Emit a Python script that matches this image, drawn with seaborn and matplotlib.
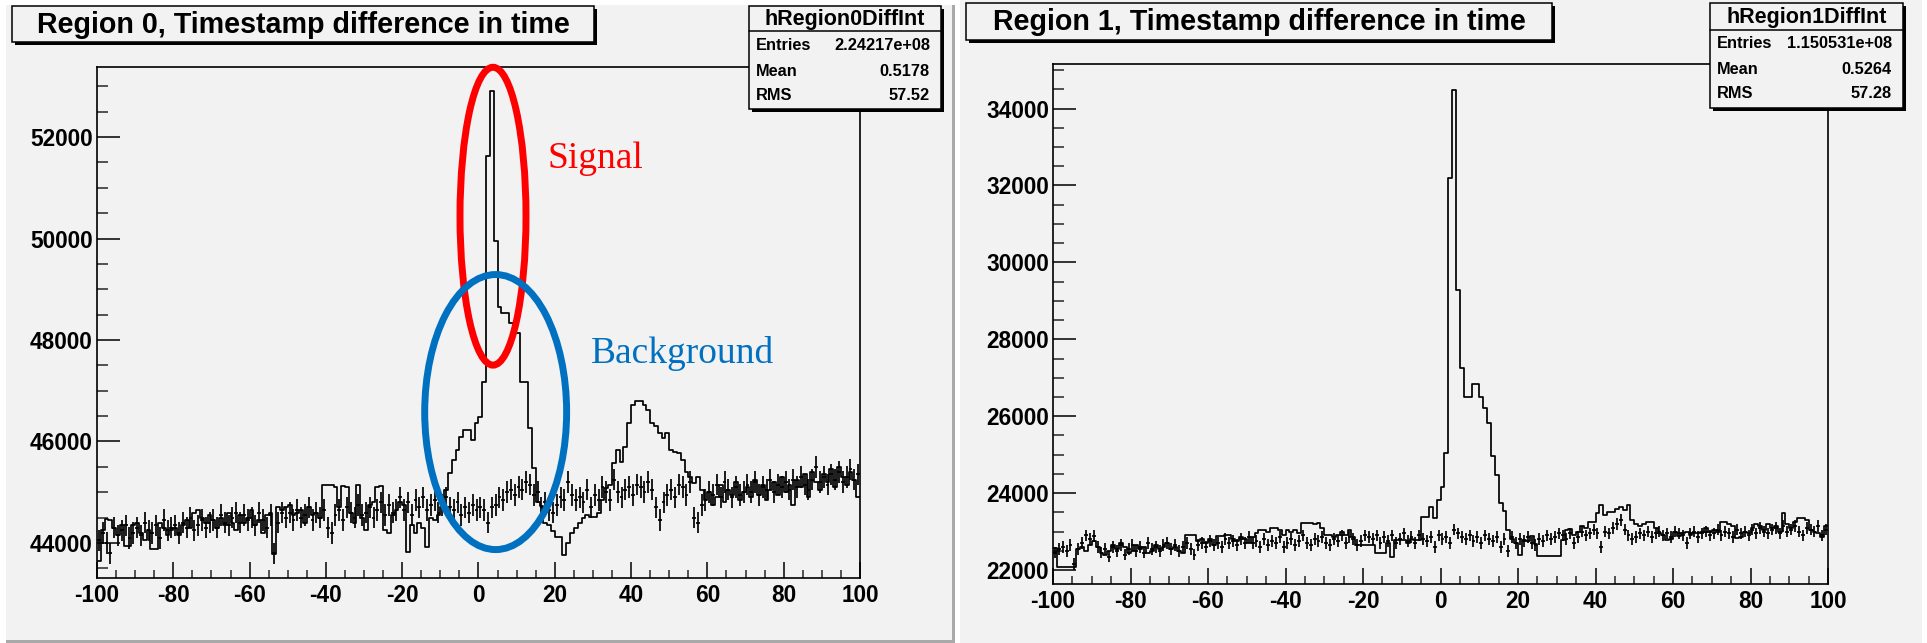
import numpy as np
import pandas as pd
import matplotlib
matplotlib.use('Agg')
import matplotlib.pyplot as plt
from matplotlib.patches import Rectangle, Ellipse
from matplotlib.ticker import MultipleLocator, FormatStrFormatter
import seaborn as sns

sns.set_theme(style='white')
plt.rcParams['font.family'] = ['Liberation Sans', 'DejaVu Sans']
plt.rcParams['font.weight'] = 'bold'

W, H = 1927, 643
BG = '#f2f2f2'

# 200 bins of 1 unit from -100 to 100
bin_edges = np.arange(-100, 101, 1)
bin_centers = bin_edges[:-1] + 0.5

# Region 0: step histogram (outline) and the histogram drawn with error crosses
r0_step = [
    43650, 44250, 44480, 44450, 44300, 44150, 44350, 43950, 43950, 44350,
    44400, 44200, 44050, 44250, 43880, 43880, 44400, 44300, 44150, 44250,
    44300, 44150, 44350, 44450, 44300, 44600, 44650, 44500, 44400, 44550,
    44450, 44300, 44500, 44350, 44600, 44400, 44250, 44550, 44400, 44500,
    44650, 44350, 44450, 44200, 44550, 44600, 43780, 44700, 44650, 44700,
    44750, 44550, 44600, 44650, 44400, 44700, 44550, 44600, 44500, 45150,
    45150, 45150, 45100, 44700, 45120, 45100, 44600, 44400, 45140, 44500,
    44250, 44750, 44800, 45100, 45130, 44250, 44200, 44550, 44650, 44800,
    44750, 43830, 44350, 44200, 44400, 44300, 43930, 44500, 44450, 44550,
    44700, 45050, 45370, 45630, 45830, 46090, 46230, 46230, 46030, 46370,
    46490, 47180, 51620, 52900, 49960, 48650, 48530, 48530, 48330, 48140,
    48140, 47180, 47180, 46260, 45470, 44800, 44720, 44390, 44360, 44230,
    44120, 44120, 43760, 44000, 44200, 44300, 44390, 44490, 44560, 44520,
    44520, 44590, 44850, 45080, 45150, 45580, 45830, 45600, 45900, 46360,
    46720, 46790, 46800, 46720, 46620, 46360, 46300, 46170, 46070, 46170,
    45830, 45800, 45770, 45640, 45400, 45300, 45180, 45300, 45040, 44850,
    45000, 44750, 44900, 45150, 44800, 45050, 44950, 45200, 44850, 45000,
    45100, 44900, 45250, 44950, 45150, 44850, 45050, 45200, 44950, 45300,
    45000, 45150, 44750, 45250, 45100, 45350, 44900, 45400, 45200, 45050,
    45350, 45200, 45450, 45100, 45500, 45300, 45150, 45400, 45250, 44900,
]
r0_points = [
    44050, 44200, 44000, 43800, 44300, 44150, 44250, 44350, 44100, 44200,
    44300, 44150, 44400, 44250, 44200, 44350, 44100, 44450, 44250, 44300,
    44350, 44200, 44400, 44300, 44500, 44250, 44350, 44450, 44300, 44400,
    44450, 44300, 44550, 44400, 44350, 44500, 44600, 44400, 44550, 44450,
    44500, 44350, 44600, 44450, 44300, 44550, 43800, 44400, 44600, 44500,
    44600, 44450, 44650, 44500, 44550, 44700, 44450, 44600, 44500, 44650,
    44300, 44200, 44550, 44650, 44450, 44700, 44600, 44500, 44750, 44550,
    44600, 44700, 44500, 44650, 44800, 44550, 44750, 44600, 44650, 44900,
    44650, 44800, 44550, 44850, 44700, 44900, 44650, 44750, 44850, 44600,
    44750, 44900, 44700, 44650, 44800, 44550, 44700, 44600, 44750, 44650,
    44700, 44650, 44400, 44700, 44750, 44900, 44850, 45000, 45050, 44950,
    45100, 45050, 45200, 45150, 44950, 45000, 44700, 44800, 44650, 44600,
    44750, 44900, 44850, 45200, 44950, 44850, 44900, 44800, 45050, 44700,
    44950, 44850, 45100, 45000, 44850, 45250, 45000, 44900, 45050, 45100,
    44950, 45150, 45100, 45000, 45200, 45050, 44700, 44450, 44800, 44950,
    45050, 44900, 45150, 45100, 44950, 45200, 44500, 44400, 44750, 44850,
    45000, 44950, 45150, 44900, 45200, 45050, 44900, 45100, 44950, 45000,
    45150, 45000, 45200, 44950, 45100, 45050, 45250, 45000, 45150, 45100,
    45200, 45050, 45250, 45100, 45300, 45150, 45050, 45250, 45500, 45200,
    45300, 45150, 45350, 45250, 45400, 45200, 45300, 45450, 45250, 45350,
]

# Region 1
r1_step = [
    22560, 22090, 22090, 22090, 22090, 22090, 22550, 22600, 22500, 22650,
    22750, 22600, 22450, 22400, 22500, 22650, 22550, 22700, 22600, 22450,
    22500, 22650, 22550, 22600, 22450, 22500, 22650, 22550, 22600, 22700,
    22550, 22600, 22500, 22450, 22900, 22900, 22900, 22750, 22800, 22700,
    22800, 22650, 22880, 22880, 22900, 22900, 22800, 22750, 22850, 22800,
    22700, 22850, 22950, 23040, 23040, 23000, 23090, 23090, 23050, 22900,
    23040, 23000, 23040, 22950, 23210, 23210, 23210, 23200, 23210, 23090,
    22910, 22910, 22850, 22910, 23000, 22900, 23050, 22850, 22650, 22650,
    22650, 22650, 22650, 22430, 22430, 22430, 22700, 22350, 22780, 22780,
    22780, 22700, 22800, 22780, 22780, 23390, 23390, 23650, 23340, 23820,
    24170, 25040, 32190, 34490, 29270, 27250, 26490, 26490, 26840, 26840,
    26490, 26200, 25830, 24970, 24480, 23740, 23540, 23030, 22800, 22690,
    22390, 22780, 22750, 22880, 22670, 22370, 22370, 22370, 22370, 22370,
    22370, 22780, 23040, 23070, 22910, 23000, 23150, 23100, 23260, 23260,
    23470, 23690, 23430, 23520, 23520, 23580, 23650, 23560, 23690, 23300,
    23200, 23150, 23200, 23250, 23260, 23100, 22950, 22900, 22780, 22800,
    23000, 22880, 22950, 23000, 22900, 22960, 22950, 23000, 23100, 22980,
    23050, 23000, 23260, 23250, 23200, 23150, 22830, 22850, 23000, 22950,
    23100, 23200, 23150, 23050, 23200, 23100, 23150, 23000, 23470, 23200,
    23100, 23250, 23350, 23350, 23300, 23050, 23000, 22950, 22850, 23150,
]
r1_points = [
    22450, 22550, 22600, 22500, 22650, 22150, 22550, 22700, 22900, 22800,
    22880, 22600, 22450, 22550, 22350, 22600, 22500, 22650, 22400, 22550,
    22650, 22500, 22600, 22450, 22700, 22550, 22600, 22500, 22650, 22700,
    22550, 22650, 22500, 22600, 22700, 22550, 22400, 22650, 22700, 22600,
    22750, 22650, 22700, 22600, 22800, 22700, 22750, 22650, 22800, 22700,
    22850, 22700, 22750, 22600, 22800, 22650, 22750, 22700, 22850, 22600,
    22700, 22800, 22650, 22750, 22900, 22700, 22650, 22800, 22750, 22850,
    22700, 22650, 22800, 22750, 22900, 22700, 22850, 22800, 22650, 22750,
    22900, 22850, 22800, 22900, 22700, 22850, 22750, 22900, 22700, 22800,
    22950, 22750, 22850, 22700, 22900, 22800, 22750, 22850, 22600, 22900,
    22800, 22850, 22700, 23050, 22950, 22850, 22800, 22900, 22750, 22850,
    22700, 22900, 22800, 22750, 22850, 22600, 22800, 22500, 22850, 22700,
    22800, 22750, 22850, 22700, 22650, 22800, 22750, 22900, 22800, 22850,
    22950, 22900, 22800, 22950, 22700, 22850, 23000, 22900, 22950, 23050,
    22950, 22600, 23000, 22950, 23100, 23200, 23300, 23050, 22900, 22800,
    22850, 22950, 22900, 23000, 22850, 22950, 23000, 22900, 22950, 22850,
    23000, 22950, 22900, 22700, 22950, 23000, 22850, 22950, 23000, 22900,
    22950, 23050, 22900, 23000, 22950, 22850, 23050, 22950, 23000, 22900,
    23050, 22950, 23100, 23000, 22950, 23050, 23100, 22950, 23150, 23000,
    23050, 23150, 23000, 22900, 23100, 23050, 23000, 23150, 22900, 23050,
]

titles = ['Region 0, Timestamp difference in time', 'Region 1, Timestamp difference in time']
stat_names = ['hRegion0DiffInt', 'hRegion1DiffInt']
stat_labels = ['Entries', 'Mean', 'RMS']
stat_values = [['2.24217e+08', '0.5178', '57.52'],
               ['1.150531e+08', '0.5264', '57.28']]

fig = plt.figure(figsize=(W / 100, H / 100), dpi=100)
fig.patch.set_facecolor('white')


def px_rect(x0, y0, x1, y1, **kw):
    return Rectangle((x0 / W, 1 - y1 / H), (x1 - x0) / W, (y1 - y0) / H,
                     transform=fig.transFigure, **kw)


def shadow_box(x0, y0, x1, y1):
    fig.patches.append(px_rect(x0 + 3, y0 + 3, x1 + 3, y1 + 3, facecolor='black',
                               edgecolor='none', zorder=5))
    fig.patches.append(px_rect(x0, y0, x1, y1, facecolor=BG, edgecolor='black',
                               linewidth=1.1, zorder=5))


def ftext(x, y, s, **kw):
    fig.text(x / W, 1 - y / H, s, zorder=7, **kw)


# pads
fig.patches.append(px_rect(6, 5, 955, 643, facecolor='#a9a9a9', edgecolor='none', zorder=-3))
fig.patches.append(px_rect(6, 5, 952, 640, facecolor=BG, edgecolor='none', zorder=-2))
fig.patches.append(px_rect(960, 0, 1922, 643, facecolor=BG, edgecolor='none', zorder=-2))


def draw_panel(frame, step, points, ylim, title, tbox, name, values, sbox, rows):
    x0, y0, x1, y1 = frame
    ax = fig.add_axes([x0 / W, 1 - y1 / H, (x1 - x0) / W, (y1 - y0) / H])
    ax.set_facecolor(BG)
    df = pd.DataFrame({'t': bin_centers, 'n': np.array(step, dtype=float)})
    sns.histplot(data=df, x='t', weights='n', bins=bin_edges.tolist(), element='step',
                 fill=False, color='black', linewidth=1.25, ax=ax)
    pts = np.array(points, dtype=float)
    ax.errorbar(bin_centers, pts, yerr=np.sqrt(pts), xerr=0.5, fmt='none',
                ecolor='black', elinewidth=1.25, capsize=0)
    ax.set_xlim(-100, 100)
    ax.set_ylim(*ylim)
    ax.set_xlabel('')
    ax.set_ylabel('')
    ax.xaxis.set_major_locator(MultipleLocator(20))
    ax.xaxis.set_minor_locator(MultipleLocator(5))
    ax.yaxis.set_major_locator(MultipleLocator(2000))
    ax.yaxis.set_minor_locator(MultipleLocator(500))
    ax.xaxis.set_major_formatter(FormatStrFormatter('%d'))
    ax.yaxis.set_major_formatter(FormatStrFormatter('%d'))
    ax.tick_params(axis='y', which='major', direction='in', length=16.5, width=1.1,
                   labelsize=16.3, pad=3, left=True, right=False, colors='black')
    ax.tick_params(axis='y', which='minor', direction='in', length=8, width=1.1,
                   left=True, right=False)
    ax.tick_params(axis='x', which='major', direction='in', length=11.5, width=1.1,
                   labelsize=16.3, pad=4, bottom=True, top=False, colors='black')
    ax.tick_params(axis='x', which='minor', direction='in', length=5.8, width=1.1,
                   bottom=True, top=False)
    for s in ax.spines.values():
        s.set_color('black')
        s.set_linewidth(1.2)
    ax.grid(False)

    bx0, by0, bx1, by1 = tbox
    shadow_box(bx0, by0, bx1, by1)
    ftext((bx0 + bx1) / 2, (by0 + by1) / 2 + 1, title, ha='center', va='center',
          fontsize=20.6, fontweight='bold', color='black')

    sx0, sy0, sx1, sy1, sep = sbox
    shadow_box(sx0, sy0, sx1, sy1)
    fig.lines.append(plt.Line2D([sx0 / W, sx1 / W], [1 - sep / H, 1 - sep / H],
                                transform=fig.transFigure, color='black',
                                linewidth=1.1, zorder=6))
    ftext((sx0 + sx1) / 2, (sy0 + sep) / 2 + 1, name, ha='center', va='center',
          fontsize=15.5, fontweight='bold', color='black')
    for lab, val, ry in zip(stat_labels, values, rows):
        ftext(sx0 + 7, ry, lab, ha='left', va='center', fontsize=11.8,
              fontweight='bold', color='black')
        ftext(sx1 - 11, ry, val, ha='right', va='center', fontsize=11.8,
              fontweight='bold', color='black')
    return ax


ax0 = draw_panel((97, 67, 860, 578), r0_step, r0_points, (43310, 53380), titles[0],
                 (12, 6, 594, 42), stat_names[0], stat_values[0],
                 (749, 6, 941, 109, 31), (46, 71, 96))
ax1 = draw_panel((1053, 64, 1828, 584), r1_step, r1_points, (21635, 35160), titles[1],
                 (966, 3, 1552, 40), stat_names[1], stat_values[1],
                 (1710, 3, 1903, 108, 30), (43, 69, 94))

# annotations on region 0
ax0.add_patch(Ellipse((3.8, 50440), 17.3, 5870, fill=False, edgecolor='#ff0000',
                      linewidth=5, clip_on=False, zorder=10))
ax0.add_patch(Ellipse((4.5, 46580), 37.2, 5420, fill=False, edgecolor='#0070c0',
                      linewidth=5, clip_on=False, zorder=10))
ax0.text(18, 51580, 'Signal', color='#ff0000', fontsize=27, fontweight='normal',
         family=['Liberation Serif', 'DejaVu Serif'], ha='left', va='center')
ax0.text(29.5, 47740, 'Background', color='#0070c0', fontsize=27, fontweight='normal',
         family=['Liberation Serif', 'DejaVu Serif'], ha='left', va='center')

fig.savefig('out.png', dpi=100, facecolor=fig.get_facecolor())
